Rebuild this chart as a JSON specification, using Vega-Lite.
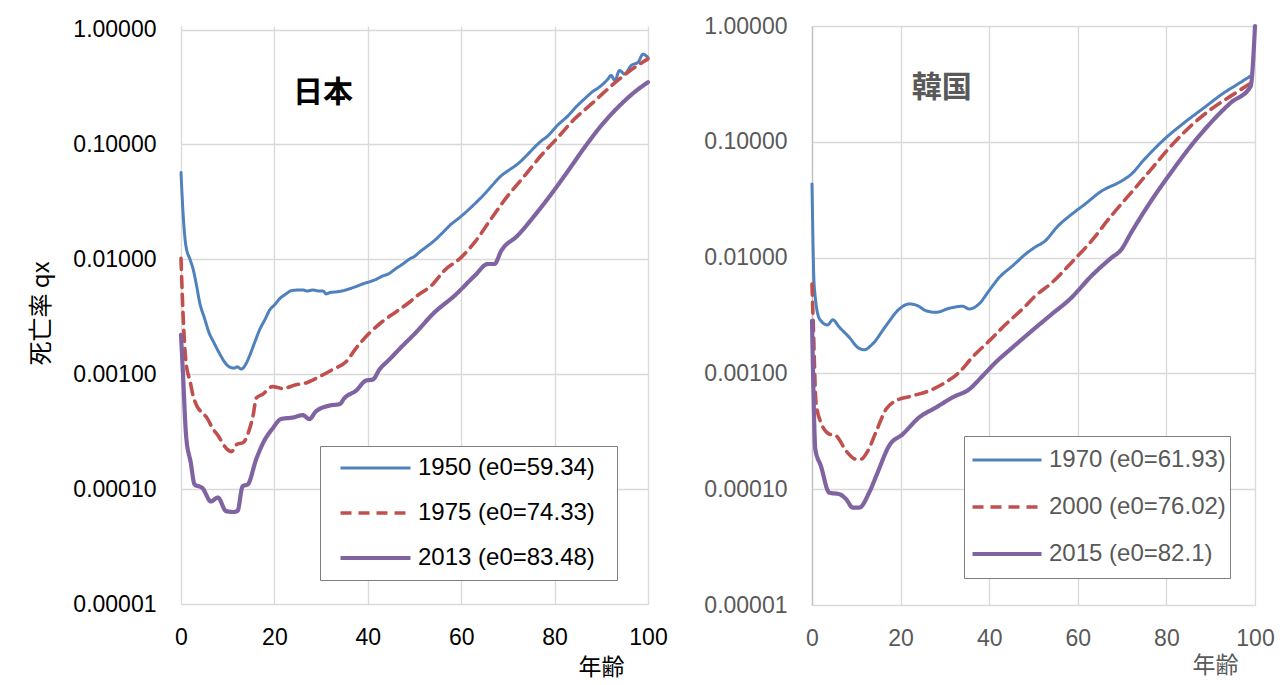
{
  "$schema": "https://vega.github.io/schema/vega-lite/v6.json",
  "padding": {"left": 29, "top": 15, "right": 0, "bottom": 6},
  "background": "#ffffff",
  "config": {"font": "Liberation Sans", "view": {"stroke": null}},
  "datasets": {
    "jp": [
      {"s":"1950 (e0=59.34)","age":0,"q":0.057},{"s":"1950 (e0=59.34)","age":0.4,"q":0.027},{"s":"1950 (e0=59.34)","age":1,"q":0.0135},{"s":"1950 (e0=59.34)","age":2,"q":0.0098},{"s":"1950 (e0=59.34)","age":2.5,"q":0.0085},{"s":"1950 (e0=59.34)","age":3.3,"q":0.006},{"s":"1950 (e0=59.34)","age":4,"q":0.0042},{"s":"1950 (e0=59.34)","age":5,"q":0.0031},{"s":"1950 (e0=59.34)","age":6,"q":0.0023},{"s":"1950 (e0=59.34)","age":7,"q":0.0019},{"s":"1950 (e0=59.34)","age":8.3,"q":0.0015},{"s":"1950 (e0=59.34)","age":9.5,"q":0.00125},{"s":"1950 (e0=59.34)","age":10.5,"q":0.00115},{"s":"1950 (e0=59.34)","age":11.5,"q":0.00113},{"s":"1950 (e0=59.34)","age":12,"q":0.00116},{"s":"1950 (e0=59.34)","age":12.9,"q":0.00111},{"s":"1950 (e0=59.34)","age":14,"q":0.00125},{"s":"1950 (e0=59.34)","age":14.7,"q":0.00145},{"s":"1950 (e0=59.34)","age":15.8,"q":0.0019},{"s":"1950 (e0=59.34)","age":16.9,"q":0.00247},{"s":"1950 (e0=59.34)","age":18,"q":0.003},{"s":"1950 (e0=59.34)","age":19,"q":0.00363},{"s":"1950 (e0=59.34)","age":20,"q":0.004},{"s":"1950 (e0=59.34)","age":21.2,"q":0.00457},{"s":"1950 (e0=59.34)","age":22.5,"q":0.005},{"s":"1950 (e0=59.34)","age":23.6,"q":0.00533},{"s":"1950 (e0=59.34)","age":25,"q":0.0054},{"s":"1950 (e0=59.34)","age":26.1,"q":0.0054},{"s":"1950 (e0=59.34)","age":27,"q":0.0053},{"s":"1950 (e0=59.34)","age":28.2,"q":0.0054},{"s":"1950 (e0=59.34)","age":29.5,"q":0.0053},{"s":"1950 (e0=59.34)","age":30.4,"q":0.0053},{"s":"1950 (e0=59.34)","age":31.1,"q":0.005},{"s":"1950 (e0=59.34)","age":32,"q":0.00515},{"s":"1950 (e0=59.34)","age":33.2,"q":0.0052},{"s":"1950 (e0=59.34)","age":34.5,"q":0.0053},{"s":"1950 (e0=59.34)","age":36.1,"q":0.00554},{"s":"1950 (e0=59.34)","age":37.5,"q":0.0058},{"s":"1950 (e0=59.34)","age":38.9,"q":0.0061},{"s":"1950 (e0=59.34)","age":40.5,"q":0.0064},{"s":"1950 (e0=59.34)","age":41.8,"q":0.0067},{"s":"1950 (e0=59.34)","age":43,"q":0.0071},{"s":"1950 (e0=59.34)","age":44.6,"q":0.00753},{"s":"1950 (e0=59.34)","age":46,"q":0.0083},{"s":"1950 (e0=59.34)","age":47.5,"q":0.0091},{"s":"1950 (e0=59.34)","age":49,"q":0.0101},{"s":"1950 (e0=59.34)","age":50,"q":0.0106},{"s":"1950 (e0=59.34)","age":51,"q":0.0115},{"s":"1950 (e0=59.34)","age":52.5,"q":0.0128},{"s":"1950 (e0=59.34)","age":54.3,"q":0.0146},{"s":"1950 (e0=59.34)","age":56,"q":0.017},{"s":"1950 (e0=59.34)","age":57.9,"q":0.0203},{"s":"1950 (e0=59.34)","age":59.5,"q":0.0228},{"s":"1950 (e0=59.34)","age":61.4,"q":0.0266},{"s":"1950 (e0=59.34)","age":63.6,"q":0.0324},{"s":"1950 (e0=59.34)","age":65,"q":0.037},{"s":"1950 (e0=59.34)","age":66.5,"q":0.0433},{"s":"1950 (e0=59.34)","age":68.6,"q":0.0535},{"s":"1950 (e0=59.34)","age":70.3,"q":0.06},{"s":"1950 (e0=59.34)","age":72.1,"q":0.0676},{"s":"1950 (e0=59.34)","age":74,"q":0.08},{"s":"1950 (e0=59.34)","age":75.7,"q":0.0945},{"s":"1950 (e0=59.34)","age":77,"q":0.106},{"s":"1950 (e0=59.34)","age":78.6,"q":0.119},{"s":"1950 (e0=59.34)","age":80.5,"q":0.145},{"s":"1950 (e0=59.34)","age":82.9,"q":0.178},{"s":"1950 (e0=59.34)","age":84.5,"q":0.21},{"s":"1950 (e0=59.34)","age":86.4,"q":0.249},{"s":"1950 (e0=59.34)","age":88,"q":0.285},{"s":"1950 (e0=59.34)","age":90,"q":0.325},{"s":"1950 (e0=59.34)","age":91.4,"q":0.37},{"s":"1950 (e0=59.34)","age":92.1,"q":0.398},{"s":"1950 (e0=59.34)","age":92.9,"q":0.36},{"s":"1950 (e0=59.34)","age":93.9,"q":0.44},{"s":"1950 (e0=59.34)","age":95,"q":0.41},{"s":"1950 (e0=59.34)","age":96.4,"q":0.486},{"s":"1950 (e0=59.34)","age":97.9,"q":0.52},{"s":"1950 (e0=59.34)","age":98.9,"q":0.61},{"s":"1950 (e0=59.34)","age":100,"q":0.57},
      {"s":"1975 (e0=74.33)","age":0,"q":0.0102},{"s":"1975 (e0=74.33)","age":0.4,"q":0.0036},{"s":"1975 (e0=74.33)","age":1.1,"q":0.00124},{"s":"1975 (e0=74.33)","age":2,"q":0.00085},{"s":"1975 (e0=74.33)","age":2.5,"q":0.00067},{"s":"1975 (e0=74.33)","age":3.5,"q":0.00052},{"s":"1975 (e0=74.33)","age":4.6,"q":0.00046},{"s":"1975 (e0=74.33)","age":5.5,"q":0.00042},{"s":"1975 (e0=74.33)","age":6.8,"q":0.000336},{"s":"1975 (e0=74.33)","age":8,"q":0.00029},{"s":"1975 (e0=74.33)","age":9,"q":0.000247},{"s":"1975 (e0=74.33)","age":10,"q":0.00022},{"s":"1975 (e0=74.33)","age":10.8,"q":0.000212},{"s":"1975 (e0=74.33)","age":11.9,"q":0.000244},{"s":"1975 (e0=74.33)","age":13.3,"q":0.000254},{"s":"1975 (e0=74.33)","age":14.7,"q":0.000336},{"s":"1975 (e0=74.33)","age":15.5,"q":0.00045},{"s":"1975 (e0=74.33)","age":16.1,"q":0.00062},{"s":"1975 (e0=74.33)","age":17.5,"q":0.00067},{"s":"1975 (e0=74.33)","age":19.6,"q":0.00078},{"s":"1975 (e0=74.33)","age":21.8,"q":0.00075},{"s":"1975 (e0=74.33)","age":24.6,"q":0.00081},{"s":"1975 (e0=74.33)","age":26.8,"q":0.00084},{"s":"1975 (e0=74.33)","age":29.6,"q":0.00095},{"s":"1975 (e0=74.33)","age":32.5,"q":0.0011},{"s":"1975 (e0=74.33)","age":35.4,"q":0.00129},{"s":"1975 (e0=74.33)","age":37.5,"q":0.00169},{"s":"1975 (e0=74.33)","age":40.4,"q":0.00229},{"s":"1975 (e0=74.33)","age":43.2,"q":0.00289},{"s":"1975 (e0=74.33)","age":46.1,"q":0.0035},{"s":"1975 (e0=74.33)","age":48.9,"q":0.00423},{"s":"1975 (e0=74.33)","age":50.5,"q":0.0048},{"s":"1975 (e0=74.33)","age":53.6,"q":0.0059},{"s":"1975 (e0=74.33)","age":56.4,"q":0.008},{"s":"1975 (e0=74.33)","age":60,"q":0.0104},{"s":"1975 (e0=74.33)","age":62.9,"q":0.0141},{"s":"1975 (e0=74.33)","age":66.4,"q":0.0225},{"s":"1975 (e0=74.33)","age":70,"q":0.0358},{"s":"1975 (e0=74.33)","age":73.6,"q":0.0535},{"s":"1975 (e0=74.33)","age":77.1,"q":0.08},{"s":"1975 (e0=74.33)","age":80.7,"q":0.115},{"s":"1975 (e0=74.33)","age":84.3,"q":0.167},{"s":"1975 (e0=74.33)","age":87.9,"q":0.225},{"s":"1975 (e0=74.33)","age":91.4,"q":0.304},{"s":"1975 (e0=74.33)","age":95.7,"q":0.425},{"s":"1975 (e0=74.33)","age":100,"q":0.555},
      {"s":"2013 (e0=83.48)","age":0,"q":0.0022},{"s":"2013 (e0=83.48)","age":0.4,"q":0.00106},{"s":"2013 (e0=83.48)","age":1.1,"q":0.000288},{"s":"2013 (e0=83.48)","age":2.1,"q":0.000169},{"s":"2013 (e0=83.48)","age":2.9,"q":0.00011},{"s":"2013 (e0=83.48)","age":4.6,"q":0.000102},{"s":"2013 (e0=83.48)","age":6.4,"q":0.0000782},{"s":"2013 (e0=83.48)","age":7.9,"q":0.0000845},{"s":"2013 (e0=83.48)","age":9.6,"q":0.0000646},{"s":"2013 (e0=83.48)","age":11.1,"q":0.0000632},{"s":"2013 (e0=83.48)","age":12.1,"q":0.0000646},{"s":"2013 (e0=83.48)","age":13.2,"q":0.000106},{"s":"2013 (e0=83.48)","age":14.3,"q":0.00011},{"s":"2013 (e0=83.48)","age":16.1,"q":0.000182},{"s":"2013 (e0=83.48)","age":17.9,"q":0.000267},{"s":"2013 (e0=83.48)","age":19.6,"q":0.000336},{"s":"2013 (e0=83.48)","age":21.4,"q":0.000407},{"s":"2013 (e0=83.48)","age":24,"q":0.00042},{"s":"2013 (e0=83.48)","age":26.1,"q":0.00044},{"s":"2013 (e0=83.48)","age":27.5,"q":0.000407},{"s":"2013 (e0=83.48)","age":28.9,"q":0.000475},{"s":"2013 (e0=83.48)","age":31.8,"q":0.000533},{"s":"2013 (e0=83.48)","age":34,"q":0.00055},{"s":"2013 (e0=83.48)","age":35,"q":0.00062},{"s":"2013 (e0=83.48)","age":37.5,"q":0.00072},{"s":"2013 (e0=83.48)","age":39.6,"q":0.00088},{"s":"2013 (e0=83.48)","age":41.1,"q":0.0009},{"s":"2013 (e0=83.48)","age":42.5,"q":0.0011},{"s":"2013 (e0=83.48)","age":44.6,"q":0.00134},{"s":"2013 (e0=83.48)","age":47.1,"q":0.00171},{"s":"2013 (e0=83.48)","age":50,"q":0.00224},{"s":"2013 (e0=83.48)","age":54.3,"q":0.00346},{"s":"2013 (e0=83.48)","age":58.6,"q":0.00483},{"s":"2013 (e0=83.48)","age":62.9,"q":0.0072},{"s":"2013 (e0=83.48)","age":65.7,"q":0.0091},{"s":"2013 (e0=83.48)","age":67.1,"q":0.0091},{"s":"2013 (e0=83.48)","age":68.6,"q":0.0119},{"s":"2013 (e0=83.48)","age":72.1,"q":0.0161},{"s":"2013 (e0=83.48)","age":75.7,"q":0.024},{"s":"2013 (e0=83.48)","age":79.3,"q":0.037},{"s":"2013 (e0=83.48)","age":82.9,"q":0.059},{"s":"2013 (e0=83.48)","age":86.4,"q":0.094},{"s":"2013 (e0=83.48)","age":90,"q":0.146},{"s":"2013 (e0=83.48)","age":93.6,"q":0.211},{"s":"2013 (e0=83.48)","age":97.1,"q":0.285},{"s":"2013 (e0=83.48)","age":100,"q":0.348}
    ],
    "kr": [
      {"s":"1970 (e0=61.93)","age":0,"q":0.0433},{"s":"1970 (e0=61.93)","age":0.5,"q":0.0057},{"s":"1970 (e0=61.93)","age":1.7,"q":0.00295},{"s":"1970 (e0=61.93)","age":3.5,"q":0.00262},{"s":"1970 (e0=61.93)","age":4.7,"q":0.0029},{"s":"1970 (e0=61.93)","age":6.2,"q":0.0025},{"s":"1970 (e0=61.93)","age":8.4,"q":0.00205},{"s":"1970 (e0=61.93)","age":10.3,"q":0.00168},{"s":"1970 (e0=61.93)","age":11.8,"q":0.0016},{"s":"1970 (e0=61.93)","age":13.7,"q":0.0018},{"s":"1970 (e0=61.93)","age":16.7,"q":0.00258},{"s":"1970 (e0=61.93)","age":19.7,"q":0.0036},{"s":"1970 (e0=61.93)","age":22,"q":0.00398},{"s":"1970 (e0=61.93)","age":23.8,"q":0.00385},{"s":"1970 (e0=61.93)","age":25.7,"q":0.00348},{"s":"1970 (e0=61.93)","age":28,"q":0.00337},{"s":"1970 (e0=61.93)","age":31,"q":0.00365},{"s":"1970 (e0=61.93)","age":34,"q":0.0038},{"s":"1970 (e0=61.93)","age":35.5,"q":0.0036},{"s":"1970 (e0=61.93)","age":37.7,"q":0.00398},{"s":"1970 (e0=61.93)","age":40,"q":0.0052},{"s":"1970 (e0=61.93)","age":42.3,"q":0.00676},{"s":"1970 (e0=61.93)","age":45.3,"q":0.0085},{"s":"1970 (e0=61.93)","age":48.3,"q":0.0108},{"s":"1970 (e0=61.93)","age":50.5,"q":0.0124},{"s":"1970 (e0=61.93)","age":52.5,"q":0.0138},{"s":"1970 (e0=61.93)","age":55.5,"q":0.0187},{"s":"1970 (e0=61.93)","age":58.5,"q":0.0235},{"s":"1970 (e0=61.93)","age":61.5,"q":0.0287},{"s":"1970 (e0=61.93)","age":65.3,"q":0.0374},{"s":"1970 (e0=61.93)","age":69.8,"q":0.0457},{"s":"1970 (e0=61.93)","age":72,"q":0.0522},{"s":"1970 (e0=61.93)","age":75,"q":0.0703},{"s":"1970 (e0=61.93)","age":79.5,"q":0.105},{"s":"1970 (e0=61.93)","age":84,"q":0.146},{"s":"1970 (e0=61.93)","age":88.5,"q":0.197},{"s":"1970 (e0=61.93)","age":93,"q":0.265},{"s":"1970 (e0=61.93)","age":96,"q":0.313},{"s":"1970 (e0=61.93)","age":99,"q":0.37},
      {"s":"2000 (e0=76.02)","age":0,"q":0.0059},{"s":"2000 (e0=76.02)","age":0.3,"q":0.00258},{"s":"2000 (e0=76.02)","age":0.9,"q":0.000562},{"s":"2000 (e0=76.02)","age":2,"q":0.000377},{"s":"2000 (e0=76.02)","age":3.9,"q":0.000299},{"s":"2000 (e0=76.02)","age":5.4,"q":0.00029},{"s":"2000 (e0=76.02)","age":7.7,"q":0.000214},{"s":"2000 (e0=76.02)","age":9.9,"q":0.000182},{"s":"2000 (e0=76.02)","age":11.1,"q":0.000182},{"s":"2000 (e0=76.02)","age":12.6,"q":0.000214},{"s":"2000 (e0=76.02)","age":14.4,"q":0.000309},{"s":"2000 (e0=76.02)","age":16.7,"q":0.00049},{"s":"2000 (e0=76.02)","age":18.9,"q":0.00058},{"s":"2000 (e0=76.02)","age":22.7,"q":0.00064},{"s":"2000 (e0=76.02)","age":26.5,"q":0.00071},{"s":"2000 (e0=76.02)","age":30.2,"q":0.00084},{"s":"2000 (e0=76.02)","age":33.2,"q":0.00102},{"s":"2000 (e0=76.02)","age":36.2,"q":0.00138},{"s":"2000 (e0=76.02)","age":40,"q":0.00191},{"s":"2000 (e0=76.02)","age":43.8,"q":0.00267},{"s":"2000 (e0=76.02)","age":47.5,"q":0.0036},{"s":"2000 (e0=76.02)","age":50.5,"q":0.0047},{"s":"2000 (e0=76.02)","age":54,"q":0.006},{"s":"2000 (e0=76.02)","age":58.5,"q":0.009},{"s":"2000 (e0=76.02)","age":63,"q":0.0138},{"s":"2000 (e0=76.02)","age":67.5,"q":0.0228},{"s":"2000 (e0=76.02)","age":72,"q":0.0362},{"s":"2000 (e0=76.02)","age":76.5,"q":0.0576},{"s":"2000 (e0=76.02)","age":81,"q":0.0918},{"s":"2000 (e0=76.02)","age":85.5,"q":0.137},{"s":"2000 (e0=76.02)","age":90,"q":0.19},{"s":"2000 (e0=76.02)","age":94.5,"q":0.248},{"s":"2000 (e0=76.02)","age":99,"q":0.32},
      {"s":"2015 (e0=82.1)","age":0,"q":0.00285},{"s":"2015 (e0=82.1)","age":0.3,"q":0.00078},{"s":"2015 (e0=82.1)","age":0.75,"q":0.000222},{"s":"2015 (e0=82.1)","age":2,"q":0.000159},{"s":"2015 (e0=82.1)","age":3.9,"q":0.0000934},{"s":"2015 (e0=82.1)","age":6.2,"q":0.0000905},{"s":"2015 (e0=82.1)","age":7.7,"q":0.000082},{"s":"2015 (e0=82.1)","age":9.2,"q":0.0000694},{"s":"2015 (e0=82.1)","age":10.7,"q":0.0000694},{"s":"2015 (e0=82.1)","age":12.9,"q":0.0000934},{"s":"2015 (e0=82.1)","age":14.8,"q":0.000139},{"s":"2015 (e0=82.1)","age":17.4,"q":0.000237},{"s":"2015 (e0=82.1)","age":20.5,"q":0.000299},{"s":"2015 (e0=82.1)","age":24.2,"q":0.000417},{"s":"2015 (e0=82.1)","age":28,"q":0.000508},{"s":"2015 (e0=82.1)","age":31.7,"q":0.00062},{"s":"2015 (e0=82.1)","age":35.5,"q":0.00073},{"s":"2015 (e0=82.1)","age":38.5,"q":0.00095},{"s":"2015 (e0=82.1)","age":41.5,"q":0.00125},{"s":"2015 (e0=82.1)","age":45.3,"q":0.00168},{"s":"2015 (e0=82.1)","age":49.5,"q":0.00231},{"s":"2015 (e0=82.1)","age":54,"q":0.00322},{"s":"2015 (e0=82.1)","age":58.5,"q":0.00448},{"s":"2015 (e0=82.1)","age":63,"q":0.0069},{"s":"2015 (e0=82.1)","age":67.5,"q":0.0099},{"s":"2015 (e0=82.1)","age":69.8,"q":0.0117},{"s":"2015 (e0=82.1)","age":72,"q":0.0163},{"s":"2015 (e0=82.1)","age":76.5,"q":0.0307},{"s":"2015 (e0=82.1)","age":81,"q":0.054},{"s":"2015 (e0=82.1)","age":85.5,"q":0.0918},{"s":"2015 (e0=82.1)","age":90,"q":0.146},{"s":"2015 (e0=82.1)","age":94.5,"q":0.217},{"s":"2015 (e0=82.1)","age":99,"q":0.3},{"s":"2015 (e0=82.1)","age":100,"q":1.0}
    ]
  },
  "resolve": {
    "scale": {"x": "independent", "y": "independent", "color": "independent", "strokeDash": "independent", "strokeWidth": "independent"},
    "legend": {"color": "independent", "strokeDash": "independent", "strokeWidth": "independent"}
  },
  "bounds": "flush",
  "spacing": 164,
  "hconcat": [
    {
      "width": 467,
      "height": 578,
      "layer": [
        {
          "data": {"name": "jp"},
          "mark": {"type": "line", "interpolate": "monotone", "strokeCap": "round", "strokeJoin": "round"},
          "encoding": {
            "x": {"field": "age", "type": "quantitative", "scale": {"domain": [0, 100], "nice": false, "zero": false},
              "axis": {"values": [0, 20, 40, 60, 80, 100], "labelFontSize": 23, "labelColor": "#000000", "labelFlush": false, "labelOverlap": false, "labelPadding": 22, "ticks": false, "domain": false, "gridColor": "#d9d9d9", "gridWidth": 1.3,
                "title": "年齢", "titleFont": "Noto Sans CJK JP", "titleFontSize": 23, "titleFontWeight": "normal", "titleColor": "#000000", "titleX": 420, "titleY": 63, "titleAlign": "center", "titleBaseline": "middle", "titleAnchor": null}},
            "y": {"field": "q", "type": "quantitative", "scale": {"type": "log", "domain": [0.00001, 1.073], "nice": false},
              "axis": {"values": [1, 0.1, 0.01, 0.001, 0.0001, 0.00001], "format": ".5f", "labelFontSize": 23, "labelColor": "#000000", "labelPadding": 25, "ticks": false, "domain": false, "gridColor": "#d9d9d9", "gridWidth": 1.3,
                "title": "死亡率 qx", "titleFont": "Noto Sans CJK JP", "titleFontSize": 24, "titleFontWeight": "normal", "titleColor": "#000000", "titleX": -140, "titleY": 287, "titleAngle": 270, "titleAlign": "center", "titleBaseline": "middle", "titleAnchor": null}},
            "color": {"field": "s", "type": "nominal",
              "scale": {"domain": ["1950 (e0=59.34)", "1975 (e0=74.33)", "2013 (e0=83.48)"], "range": ["#4F81BD", "#C0504D", "#8064A2"]},
              "legend": {"orient": "none", "legendX": 139, "legendY": 420, "title": "\u00a0", "titleOrient": "right", "titleFontSize": 24, "titlePadding": 18, "titleColor": "#ffffff", "symbolType": "stroke", "symbolSize": 4900, "clipHeight": 36, "rowPadding": 9, "padding": 4, "symbolOffset": 14, "labelOffset": 5, "labelFontSize": 24, "labelColor": "#000000", "labelFont": "Liberation Sans", "labelLimit": 400, "strokeColor": "#7f7f7f", "fillColor": "#ffffff"}},
            "strokeDash": {"field": "s", "type": "nominal",
              "scale": {"domain": ["1950 (e0=59.34)", "1975 (e0=74.33)", "2013 (e0=83.48)"], "range": [[1, 0], [11, 7], [1, 0]]}},
            "strokeWidth": {"field": "s", "type": "nominal",
              "scale": {"domain": ["1950 (e0=59.34)", "1975 (e0=74.33)", "2013 (e0=83.48)"], "range": [3, 4.2, 6]}}
          }
        },
        {
          "data": {"values": [{}]},
          "mark": {"type": "text", "text": "日本", "font": "Noto Sans CJK JP", "fontSize": 30, "fontWeight": "bold", "color": "#000000", "align": "center", "baseline": "middle"},
          "encoding": {
            "x": {"datum": 30.4, "type": "quantitative"},
            "y": {"datum": 0.28, "type": "quantitative"}
          }
        }
      ]
    },
    {
      "width": 443,
      "height": 579,
      "layer": [
        {
          "data": {"name": "kr"},
          "mark": {"type": "line", "interpolate": "monotone", "strokeCap": "round", "strokeJoin": "round"},
          "encoding": {
            "x": {"field": "age", "type": "quantitative", "scale": {"domain": [0, 100], "nice": false, "zero": false},
              "axis": {"values": [0, 20, 40, 60, 80, 100], "labelFontSize": 23, "labelColor": "#595959", "labelFlush": false, "labelOverlap": false, "labelPadding": 22, "ticks": false, "domain": false, "gridColor": "#d9d9d9", "gridWidth": 1.3,
                "title": "年齢", "titleFont": "Noto Sans CJK JP", "titleFontSize": 23, "titleFontWeight": "normal", "titleColor": "#595959", "titleX": 403, "titleY": 60, "titleAlign": "center", "titleBaseline": "middle", "titleAnchor": null}},
            "y": {"field": "q", "type": "quantitative", "scale": {"type": "log", "domain": [0.00001, 1], "nice": false},
              "axis": {"values": [1, 0.1, 0.01, 0.001, 0.0001, 0.00001], "format": ".5f", "labelFontSize": 23, "labelColor": "#595959", "labelPadding": 25, "ticks": false, "domain": true, "domainColor": "#bfbfbf", "domainWidth": 1.3, "gridColor": "#d9d9d9", "gridWidth": 1.3, "title": null}},
            "color": {"field": "s", "type": "nominal",
              "scale": {"domain": ["1970 (e0=61.93)", "2000 (e0=76.02)", "2015 (e0=82.1)"], "range": ["#4F81BD", "#C0504D", "#8064A2"]},
              "legend": {"orient": "none", "legendX": 152, "legendY": 410, "title": null, "symbolType": "stroke", "symbolSize": 4761, "clipHeight": 40, "rowPadding": 7, "padding": 4, "symbolOffset": 2, "labelOffset": 5, "labelFontSize": 24, "labelColor": "#595959", "labelFont": "Liberation Sans", "labelLimit": 400, "strokeColor": "#7f7f7f", "fillColor": "#ffffff"}},
            "strokeDash": {"field": "s", "type": "nominal",
              "scale": {"domain": ["1970 (e0=61.93)", "2000 (e0=76.02)", "2015 (e0=82.1)"], "range": [[1, 0], [11, 7], [1, 0]]}},
            "strokeWidth": {"field": "s", "type": "nominal",
              "scale": {"domain": ["1970 (e0=61.93)", "2000 (e0=76.02)", "2015 (e0=82.1)"], "range": [3, 4.2, 6]}}
          }
        },
        {
          "data": {"values": [{}]},
          "mark": {"type": "text", "text": "韓国", "font": "Noto Sans CJK JP", "fontSize": 30, "fontWeight": "bold", "color": "#595959", "align": "center", "baseline": "middle"},
          "encoding": {
            "x": {"datum": 29.3, "type": "quantitative"},
            "y": {"datum": 0.29, "type": "quantitative"}
          }
        }
      ]
    }
  ]
}
